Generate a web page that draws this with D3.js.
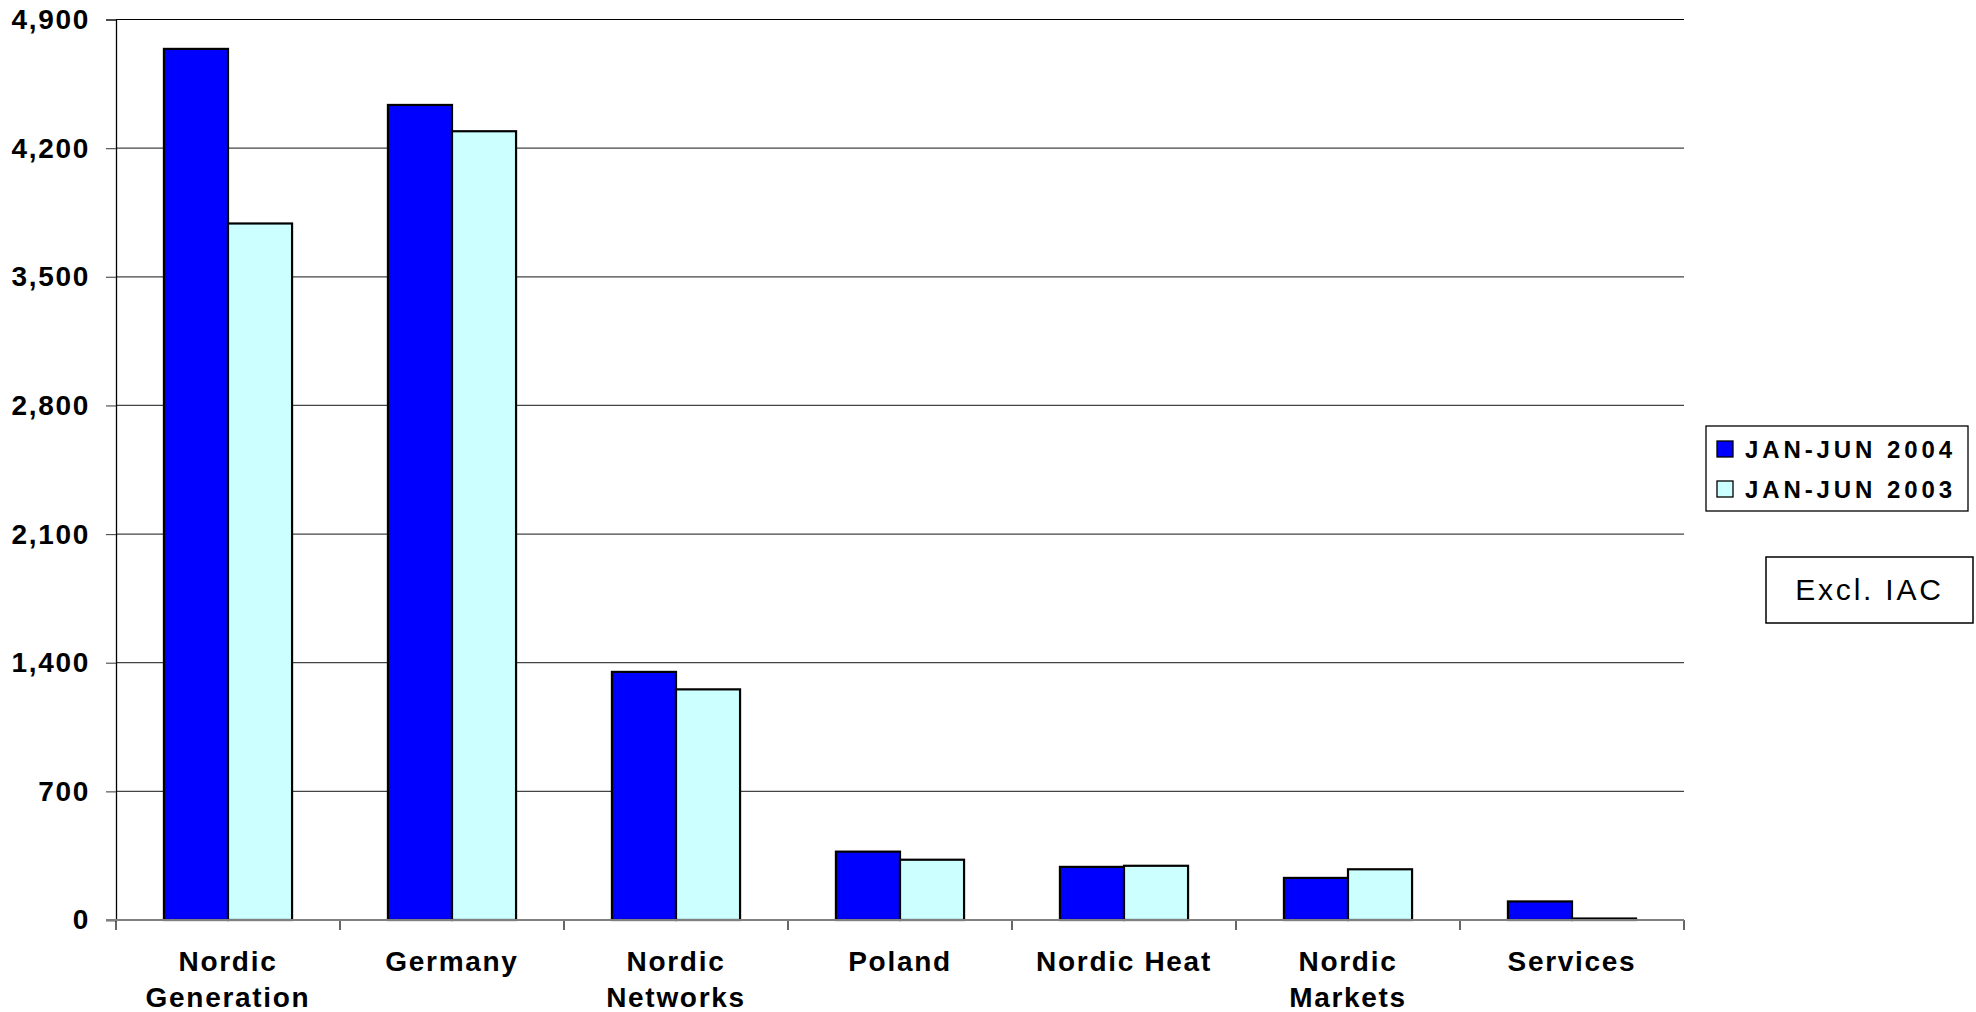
<!DOCTYPE html>
<html>
<head>
<meta charset="utf-8">
<script src="https://cdn.jsdelivr.net/npm/d3@7"></script>
<style>
  body { margin: 0; background: #fff; }
  svg { display: block; font-family: "Liberation Sans", Arial, sans-serif; }
</style>
</head>
<body>
<div id="chart"></div>
<script>
const categories = ["Nordic Generation", "Germany", "Nordic Networks", "Poland", "Nordic Heat", "Nordic Markets", "Services"]
const labelLines = [["Nordic", "Generation"], ["Germany"], ["Nordic", "Networks"], ["Poland"], ["Nordic Heat"], ["Nordic", "Markets"], ["Services"]]
const seriesNames = ["JAN-JUN 2004", "JAN-JUN 2003"]
const values2004 = [4740, 4435, 1350, 372, 289, 229, 101]
const values2003 = [3790, 4292, 1255, 328, 295, 276, 8]
const yTicks = [0, 700, 1400, 2100, 2800, 3500, 4200, 4900]
const seriesColors = ["#0000ff", "#ccffff"]

const width = 1976
const height = 1012
const margin = {left: 116, right: 292, top: 19.5, bottom: 92}

const svg = d3.select("#chart")
  .append("svg")
  .attr("width", width)
  .attr("height", height)

const y = d3.scaleLinear()
  .domain([0, 4900])
  .range([height - margin.bottom, margin.top])

const x0 = d3.scaleBand()
  .domain(categories)
  .range([margin.left, width - margin.right])
  .padding(0)

const groupWidth = x0.bandwidth() * 0.572
const x1 = d3.scaleBand()
  .domain(seriesNames)
  .range([0, groupWidth])

// gridlines
svg.append("g")
  .selectAll("line")
  .data(yTicks.filter(d => d > 0))
  .join("line")
  .attr("x1", margin.left)
  .attr("x2", width - margin.right)
  .attr("y1", d => y(d))
  .attr("y2", d => y(d))
  .attr("stroke", d => d === 4900 ? "#000" : "#444")
  .attr("stroke-width", 1.2)

// y axis
const yAxis = svg.append("g")
  .attr("transform", `translate(${margin.left},0)`)
  .call(d3.axisLeft(y).tickValues(yTicks).tickFormat(d3.format(",d")).tickSize(10).tickPadding(16))
yAxis.select(".domain").attr("stroke", "#000").attr("stroke-width", 1.3)
yAxis.selectAll(".tick line").attr("stroke", "#555").attr("stroke-width", 1.2)
yAxis.selectAll("text")
  .attr("font-size", 28)
  .attr("font-weight", "bold")
  .attr("letter-spacing", 1.7)
  .attr("fill", "#000")
  .attr("font-family", "Liberation Sans, Arial, sans-serif")

// bars
const rows = categories.map((c, i) => ({cat: c, vals: [values2004[i], values2003[i]]}))
const group = svg.append("g")
  .selectAll("g")
  .data(rows)
  .join("g")
  .attr("transform", d => `translate(${x0(d.cat) + (x0.bandwidth() - groupWidth) / 2},0)`)

group.selectAll("rect")
  .data(d => d.vals.map((v, j) => ({name: seriesNames[j], value: v, j})))
  .join("rect")
  .attr("x", d => x1(d.name))
  .attr("width", x1.bandwidth())
  .attr("y", d => y(d.value))
  .attr("height", d => y(0) - y(d.value))
  .attr("fill", d => seriesColors[d.j])
  .attr("stroke", "#000")
  .attr("stroke-width", 2.2)

// x axis
const xAxis = svg.append("g")
  .attr("transform", `translate(0,${y(0)})`)
svg.append("line")
  .attr("x1", margin.left - 10)
  .attr("x2", width - margin.right)
  .attr("y1", y(0))
  .attr("y2", y(0))
  .attr("stroke", "#808080")
  .attr("stroke-width", 2)

const boundaries = categories.map(c => x0(c)).concat([width - margin.right])
xAxis.selectAll("line")
  .data(boundaries)
  .join("line")
  .attr("x1", d => d)
  .attr("x2", d => d)
  .attr("y1", 0)
  .attr("y2", 10)
  .attr("stroke", "#000")
  .attr("stroke-width", 1.2)

const labels = xAxis.selectAll("text")
  .data(categories)
  .join("text")
  .attr("x", d => x0(d) + x0.bandwidth() / 2)
  .attr("y", 51)
  .attr("text-anchor", "middle")
  .attr("font-size", 28)
  .attr("font-weight", "bold")
  .attr("letter-spacing", 1.7)

labels.selectAll("tspan")
  .data((d, i) => labelLines[i])
  .join("tspan")
  .attr("x", function() { return d3.select(this.parentNode).attr("x") })
  .attr("dy", (d, i) => i === 0 ? 0 : 36)
  .text(d => d)

// legend
const legend = svg.append("g")
  .attr("transform", "translate(1706,426)")
legend.append("rect")
  .attr("width", 262)
  .attr("height", 85)
  .attr("fill", "#fff")
  .attr("stroke", "#000")
  .attr("stroke-width", 1.3)

const item = legend.selectAll(".item")
  .data(seriesNames)
  .join("g")
  .attr("class", "item")
  .attr("transform", (d, i) => `translate(11,${15 + i * 40})`)
item.append("rect")
  .attr("width", 16)
  .attr("height", 16)
  .attr("fill", (d, i) => seriesColors[i])
  .attr("stroke", "#000")
  .attr("stroke-width", 1.3)
item.append("text")
  .attr("x", 28)
  .attr("y", 16.5)
  .attr("font-size", 24)
  .attr("font-weight", "bold")
  .attr("letter-spacing", 3.9)
  .text(d => d)

// note box
const note = svg.append("g")
  .attr("transform", "translate(1766,557)")
note.append("rect")
  .attr("width", 207)
  .attr("height", 66)
  .attr("fill", "#fff")
  .attr("stroke", "#000")
  .attr("stroke-width", 1.5)
note.append("text")
  .attr("x", 103.5)
  .attr("y", 43)
  .attr("text-anchor", "middle")
  .attr("font-size", 30)
  .attr("letter-spacing", 2.8)
  .text("Excl. IAC")
</script>
</body>
</html>
